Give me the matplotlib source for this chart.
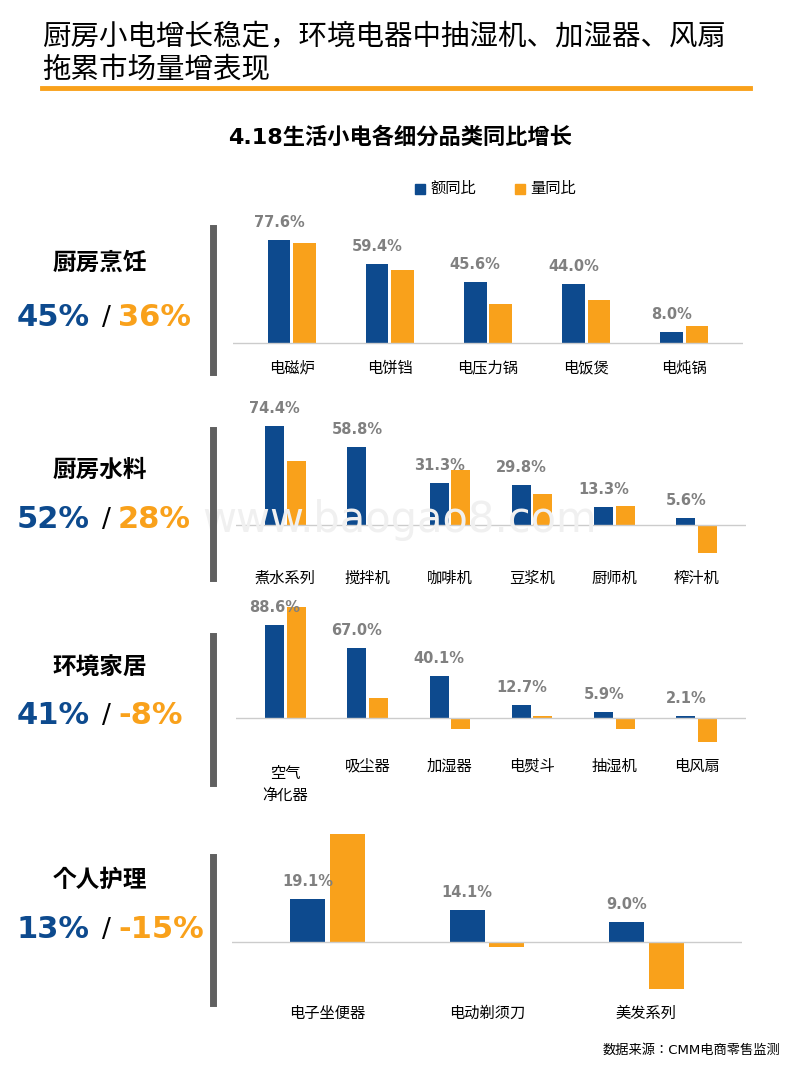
import matplotlib
matplotlib.use("Agg")
import matplotlib.pyplot as plt
import numpy as np

plt.rcParams["font.family"] = ["DejaVu Sans", "Noto Sans CJK JP", "Noto Sans CJK SC", "Noto Sans CJK TC", "Noto Sans CJK KR"]

BLUE = "#0D4A8E"
ORANGE = "#F9A11B"
GRAY = "#808080"

cats1 = ["电磁炉", "电饼铛", "电压力锅", "电饭煲", "电炖锅"]
amt1 = [77.6, 59.4, 45.6, 44.0, 8.0]
vol1 = [75, 55, 29, 32, 13]

cats2 = ["煮水系列", "搅拌机", "咖啡机", "豆浆机", "厨师机", "榨汁机"]
amt2 = [74.4, 58.8, 31.3, 29.8, 13.3, 5.6]
vol2 = [48, 0, 41, 23, 14, -21]

cats3 = ["空气\n净化器", "吸尘器", "加湿器", "电熨斗", "抽湿机", "电风扇"]
amt3 = [88.6, 67.0, 40.1, 12.7, 5.9, 2.1]
vol3 = [106, 19, -10, 2, -10, -23]

cats4 = ["电子坐便器", "电动剃须刀", "美发系列"]
amt4 = [19.1, 14.1, 9.0]
vol4 = [48, -2, -21]

groups = ["厨房烹饪", "厨房水料", "环境家居", "个人护理"]
grp_amt = ["45%", "52%", "41%", "13%"]
grp_vol = ["36%", "28%", "-8%", "-15%"]

W, H = 800, 1067
fig = plt.figure(figsize=(8, 10.67), dpi=100)

def px_axes(l, r, t, b):
    return fig.add_axes([l / W, 1 - b / H, (r - l) / W, (b - t) / H])

fig.text(42 / W, 1 - 37 / H, "厨房小电增长稳定，环境电器中抽湿机、加湿器、风扇", fontsize=20.5, va="center")
fig.text(42 / W, 1 - 70 / H, "拖累市场量增表现", fontsize=20.5, va="center")
fig.add_artist(plt.Line2D([42 / W, 750 / W], [1 - 88 / H] * 2, color=ORANGE, lw=3.5))
fig.text(400 / W, 1 - 137 / H, "4.18生活小电各细分品类同比增长", fontsize=16, fontweight="bold", ha="center", va="center")

for x, c, lab in [(420, BLUE, "额同比"), (520, ORANGE, "量同比")]:
    fig.patches.append(plt.Rectangle((x / W - 0.006, 1 - 194 / H), 10 / W, 10 / H, color=c, transform=fig.transFigure))
    fig.text((x + 10) / W, 1 - 188 / H, lab, fontsize=11, va="center")

fig.text(400 / W, 1 - 520 / H, "www.baogao8.com", fontsize=30, color="#f0f0f0", ha="center", va="center", zorder=0)

panels = [
    (cats1, amt1, vol1, 233, 743, 200, 395, 343, 1.33, 0.23, 368),
    (cats2, amt2, vol2, 236, 746, 395, 590, 525, 1.33, 0.23, 578),
    (cats3, amt3, vol3, 236, 746, 590, 800, 718, 1.05, 0.23, 766),
    (cats4, amt4, vol4, 232, 742, 815, 1030, 942, 2.25, 0.22, 1013),
]
for cats, amt, vol, l, r, t, b, base, sc, bw, laby in panels:
    ax = px_axes(l, r, t, b)
    n = len(cats)
    x = np.arange(n)
    ax.bar(x - bw / 2 - 0.015, amt, bw, color=BLUE)
    ax.bar(x + bw / 2 + 0.015, vol, bw, color=ORANGE)
    ax.axhline(0, color="#cccccc", lw=1)
    ax.set_xlim(-0.6, n - 0.4)
    ax.set_ylim(-(b - base) / sc, (base - t) / sc)
    for xi, v in zip(x, amt):
        ax.text(xi - bw / 2 - 0.015, v + 10 / sc, f"{v:.1f}%", ha="center", va="bottom",
                color=GRAY, fontsize=10.5, fontweight="bold")
    ax.axis("off")
    for xi, c in zip(x, cats):
        xp = ax.transData.transform((xi, 0))[0] / fig.dpi / 8
        fig.text(xp, 1 - laby / H, c, ha="center", va="top" if "\n" in c else "center",
                 fontsize=11, linespacing=1.6)

left = [(263, 318, 228, 372), (470, 520, 430, 578), (668, 716, 636, 783), (880, 930, 857, 1003)]
for (ty, py, gt, gb), g, a, v in zip(left, groups, grp_amt, grp_vol):
    fig.text(100 / W, 1 - ty / H, g, fontsize=17, fontweight="bold", ha="center", va="center")
    fig.text(90 / W, 1 - py / H, a, fontsize=22, fontweight="bold", color=BLUE, ha="right", va="center")
    fig.text(106 / W, 1 - py / H, "/", fontsize=19, ha="center", va="center")
    fig.text(118 / W, 1 - py / H, v, fontsize=22, fontweight="bold", color=ORANGE, ha="left", va="center")
    fig.add_artist(plt.Line2D([213 / W] * 2, [1 - gt / H, 1 - gb / H], color="#606060", lw=5))

fig.text(780 / W, 1 - 1050 / H, "数据来源：CMM电商零售监测", fontsize=9.5, ha="right", va="center")

fig.savefig("out.png", dpi=100)
